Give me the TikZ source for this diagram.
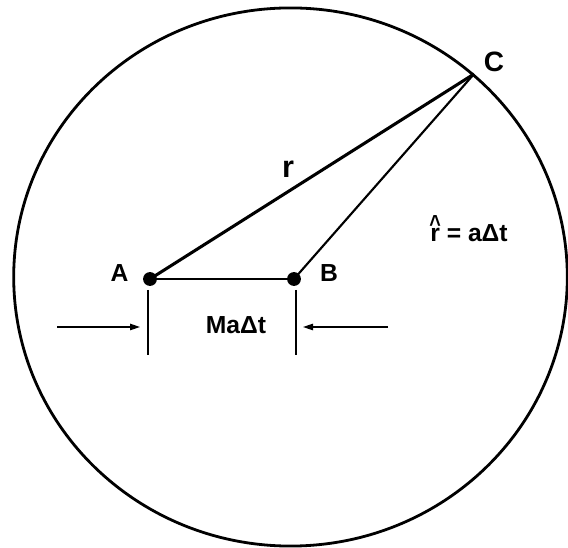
\documentclass[tikz,border=0pt]{standalone}
\usepackage{fontspec}
\usepackage{graphicx}
\setmainfont{Liberation Sans}
\usetikzlibrary{arrows.meta}
\newcommand\hatrsym{\ooalign{r\cr\hidewidth\raisebox{6.8pt}{\scalebox{0.8}[1]{\textasciicircum}}\hidewidth\cr}}
\tikzset{
  dot/.style={circle,fill=black,draw=none,inner sep=0pt,minimum size=10.4pt},
  lbl/.style={font=\bfseries\fontsize{18.5}{21}\selectfont,inner sep=0pt,anchor=base},
  biglbl/.style={font=\bfseries\fontsize{21}{24}\selectfont,inner sep=0pt,anchor=base},
  rim/.style={line width=2.1pt},
  side/.style={line width=1.6pt},
  tick/.style={line width=1.5pt},
  dimarrow/.style={line width=1.1pt,-{Triangle[length=7.5pt,width=4.8pt]}}
}
\begin{document}
\begin{tikzpicture}[x=0.75pt,y=-0.75pt]
\useasboundingbox (0,0) rectangle (568,548);
% circle
\draw[rim] (290.5,277) ellipse [x radius=207.6pt, y radius=201.8pt];
% points
\node[dot] (A) at (150,279) {};
\node[dot] (B) at (294,279) {};
\coordinate (C) at (474,74);
% triangle
\draw[line width=2.3pt] (A.center) -- (C);
\draw[side] (B.center) -- (C);
\draw[line width=1.8pt] (A.center) -- (B.center);
% labels
\node[lbl] (lA) at (119.5,282) {A};
\node[lbl] (lB) at (329,282) {B};
\node[biglbl] (lC) at (494,71.5) {C};
\node[font=\bfseries\fontsize{23}{26}\selectfont,inner sep=0pt,anchor=base] (lr) at (288,178) {r};
\node[lbl] (lrh) at (469,241.5) {\hatrsym{} = aΔt};
\node[lbl] (lM) at (236,334) {MaΔt};
% dimension ticks
\coordinate (t1a) at (148,290);
\coordinate (t1b) at (148,355);
\coordinate (t2a) at (296,290);
\coordinate (t2b) at (296,355);
\draw[tick] (t1a) -- (t1b);
\draw[tick] (t2a) -- (t2b);
% dimension arrows
\coordinate (aL0) at (57,327);
\coordinate (aL1) at (140,327);
\coordinate (aR0) at (388,327);
\coordinate (aR1) at (303,327);
\draw[dimarrow] (aL0) -- (aL1);
\draw[dimarrow] (aR0) -- (aR1);
\end{tikzpicture}
\end{document}
